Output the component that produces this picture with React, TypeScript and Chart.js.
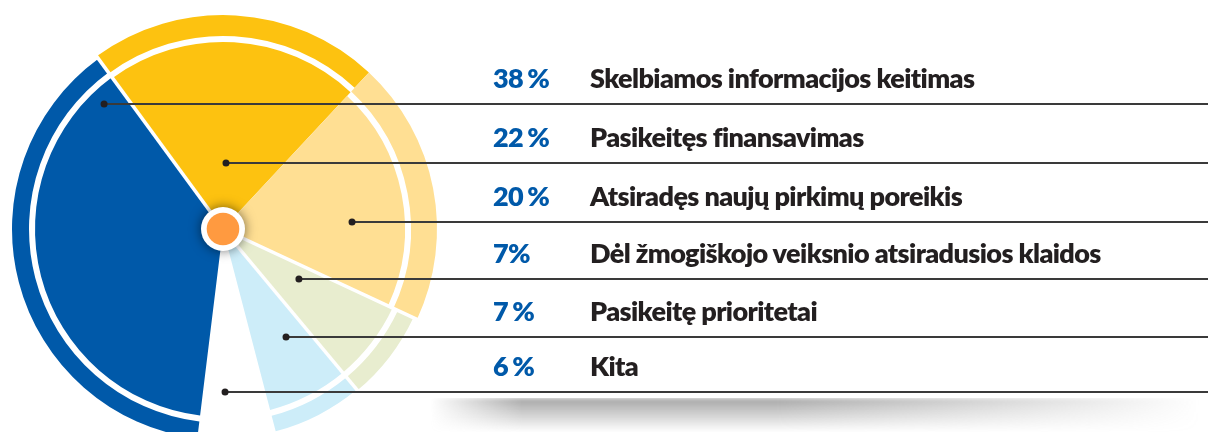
import React, { useEffect, useRef } from "react";
import { Chart, registerables } from "chart.js";

Chart.register(...registerables);

// ---- data ----
const categories = [
  "Skelbiamos informacijos keitimas",
  "Pasikeitęs finansavimas",
  "Atsiradęs naujų pirkimų poreikis",
  "Dėl žmogiškojo veiksnio atsiradusios klaidos",
  "Pasikeitę prioritetai",
  "Kita",
];
const shares = [38, 22, 20, 7, 7, 6];
const shareLabels = ["38 %", "22 %", "20 %", "7%", "7 %", "6 %"];

// ---- style / layout ----
const sliceColors = ["#0059A9", "#FDC210", "#FFDF93", "#E8EDCF", "#CDEDF9", "rgba(255,255,255,0)"];
const W = 1208;
const H = 432;
const CANVAS_H = 458;
const PIE_AREA_W = 446;
const RADIUS = 214;
const RING = 21;
const GAP = 6;
const PIE = RADIUS - RING - GAP;
const ROTATION = 187;
const ringOuterDelta = [-3, 0, 0, -4, -5, 0];
const ringInnerDelta = [1, 0, -5, 0, 0, 0];
const pieOuterDelta = [1, 0, -5, 0, 0, 0];
const separatorAt = [false, true, false, true, true, false];
const rowLineY = [104, 163, 222, 279, 337, 392];
const leaderDotX = [-0.636, 0.016, 0.69, 0.406, 0.337, 0.011];
const FS = 27;
const FONT = "Lato, 'Open Sans', sans-serif";

const shapePlugin = {
  id: "shapePlugin",
  afterDatasetsUpdate(chart: any) {
    const ring = chart.getDatasetMeta(0).data;
    const pie = chart.getDatasetMeta(2).data;
    ring.forEach((a: any, i: number) => {
      a.outerRadius += ringOuterDelta[i];
      a.innerRadius += ringInnerDelta[i];
    });
    pie.forEach((a: any, i: number) => {
      a.outerRadius += pieOuterDelta[i];
    });
  },
  afterDatasetsDraw(chart: any) {
    const ctx = chart.ctx as CanvasRenderingContext2D;
    const ringMeta = chart.getDatasetMeta(0);
    const pieMeta = chart.getDatasetMeta(2);
    const pie = pieMeta.data;
    const ring = ringMeta.data;
    const n = pie.length;
    const cx = pie[0].x;
    const cy = pie[0].y;
    const pieR = pieMeta.controller.outerRadius;
    ctx.save();
    // white separators between selected slices
    ctx.strokeStyle = "#ffffff";
    ctx.lineWidth = 3.5;
    pie.forEach((a: any, i: number) => {
      if (!separatorAt[i]) return;
      const ang = a.startAngle;
      const r = Math.max(ring[i].outerRadius, ring[(i - 1 + n) % n].outerRadius) + 3;
      ctx.beginPath();
      ctx.moveTo(cx, cy);
      ctx.lineTo(cx + r * Math.cos(ang), cy + r * Math.sin(ang));
      ctx.stroke();
    });
    // leader lines
    ctx.strokeStyle = "#3a3a3a";
    ctx.lineWidth = 2;
    ctx.fillStyle = "#231F20";
    rowLineY.forEach((y, i) => {
      const x0 = cx + leaderDotX[i] * pieR;
      ctx.beginPath();
      ctx.moveTo(x0, y);
      ctx.lineTo(chart.width, y);
      ctx.stroke();
      ctx.beginPath();
      ctx.arc(x0, y, 3.5, 0, Math.PI * 2);
      ctx.fill();
    });
    // center hub
    ctx.shadowColor = "rgba(0,0,0,0.55)";
    ctx.shadowBlur = 12;
    ctx.fillStyle = "#ffffff";
    ctx.beginPath();
    ctx.arc(cx, cy, 22, 0, Math.PI * 2);
    ctx.fill();
    ctx.shadowColor = "rgba(0,0,0,0)";
    ctx.shadowBlur = 0;
    ctx.fillStyle = "#FF9A40";
    ctx.beginPath();
    ctx.arc(cx, cy, 16.3, 0, Math.PI * 2);
    ctx.fill();
    ctx.restore();
  },
};

export default function App() {
  const ref = useRef<HTMLCanvasElement | null>(null);

  useEffect(() => {
    if (!ref.current) return;
    const chart = new Chart(ref.current, {
      type: "doughnut",
      data: {
        labels: categories,
        datasets: [
          {
            data: shares,
            backgroundColor: sliceColors,
            borderWidth: 0,
            weight: RING,
            rotation: ROTATION,
          } as any,
          {
            data: shares,
            backgroundColor: "rgba(0,0,0,0)",
            borderWidth: 0,
            weight: GAP,
            rotation: ROTATION,
          } as any,
          {
            data: shares,
            backgroundColor: sliceColors,
            borderWidth: 0,
            weight: PIE,
            rotation: ROTATION,
          } as any,
        ],
      },
      options: {
        responsive: false,
        animation: false,
        events: [],
        cutout: 0,
        radius: RADIUS,
        rotation: ROTATION,
        layout: { padding: { left: 0, top: 0, bottom: 0, right: W - PIE_AREA_W } },
        plugins: { legend: { display: false }, tooltip: { enabled: false } },
      } as any,
      plugins: [shapePlugin],
    });
    return () => chart.destroy();
  }, []);

  return (
    <div
      style={{
        position: "fixed",
        left: 0,
        top: 0,
        width: W,
        height: H,
        overflow: "hidden",
        background: "#ffffff",
      }}
    >
      <canvas
        ref={ref}
        width={W}
        height={CANVAS_H}
        style={{ position: "absolute", left: 0, top: 0, width: W, height: CANVAS_H }}
      />
      <div
        style={{
          position: "absolute",
          left: 430,
          top: 398,
          width: 770,
          height: 34,
          background: "linear-gradient(to bottom, rgba(150,150,150,0.85), rgba(255,255,255,0) 100%)",
          WebkitMaskImage: "linear-gradient(to right, transparent 0%, #000 12%, #000 45%, transparent 100%)",
          maskImage: "linear-gradient(to right, transparent 0%, #000 12%, #000 45%, transparent 100%)",
          filter: "blur(2px)",
        }}
      />
      {categories.map((c, i) => (
        <div
          key={i}
          style={{
            position: "absolute",
            left: 0,
            width: W,
            top: rowLineY[i] - 15 - 0.987 * FS,
            height: 1.2 * FS,
            lineHeight: `${1.2 * FS}px`,
            fontFamily: FONT,
            fontWeight: 800,
            fontSize: FS,
            letterSpacing: "-0.6px",
            whiteSpace: "nowrap",
          }}
        >
          <span style={{ position: "absolute", left: 493, color: "#0059A9", wordSpacing: "-1.5px" }}>
            {shareLabels[i]}
          </span>
          <span style={{ position: "absolute", left: 590, color: "#231F20" }}>{c}</span>
        </div>
      ))}
    </div>
  );
}
